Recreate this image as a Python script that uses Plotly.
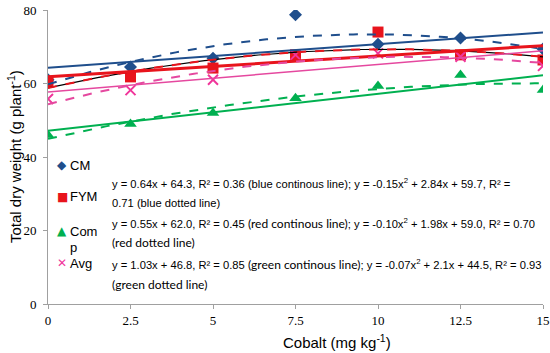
import numpy as np
import plotly.graph_objects as go

# ---- data ----
cobalt = [0, 2.5, 5, 7.5, 10, 12.5, 15]
cm = [61.0, 64.5, 66.9, 78.7, 70.7, 72.4, 69.4]
fym = [60.5, 61.8, 64.2, 67.8, 74.0, 67.8, 66.4]
comp = [46.0, 49.0, 52.0, 56.0, 59.3, 62.3, 58.2]
avg = [55.8, 58.2, 61.0, 67.8, 68.2, 67.3, 64.8]
x_ticks = [0, 2.5, 5, 7.5, 10, 12.5, 15]
x_tick_labels = ["0", "2.5", "5", "7.5", "10", "12.5", "15"]
y_ticks = [0, 20, 40, 60, 80]

BLUE = "#1F4E8C"
RED = "#E8141C"
GREEN = "#00B050"
PINK = "#F0359A"
PINK_LINE = "#E5489F"

W, H = 550, 353
L, R, T, B = 48, 7, 10, 49
PW, PH = W - L - R, H - T - B

def px(x):
    return (x - L) / PW

def py(y):
    return (H - B - y) / PH

fig = go.Figure()

# markers first
fig.add_trace(go.Scatter(x=cobalt, y=cm, mode="markers", name="CM",
                         marker=dict(symbol="diamond", size=10, color=BLUE)))
fig.add_trace(go.Scatter(x=cobalt, y=fym, mode="markers", name="FYM",
                         marker=dict(symbol="square", size=11, color=RED)))
fig.add_trace(go.Scatter(x=cobalt, y=comp, mode="markers", name="Comp",
                         marker=dict(symbol="triangle-up", size=11, color=GREEN)))
fig.add_trace(go.Scatter(x=cobalt, y=avg, mode="markers", name="Avg",
                         marker=dict(symbol="x-thin", size=10, color=PINK,
                                     line=dict(width=2, color=PINK))))

# trendlines fitted from the data
xs = np.linspace(0, 15, 121)
def fit(y, deg):
    c = np.polyfit(cobalt, y, deg)
    return np.polyval(c, xs)

line_specs = [
    (cm, 1, BLUE, 2, "solid"),
    (cm, 2, BLUE, 2, "dash"),
    (fym, 2, "#000000", 1.2, "solid"),
    (fym, 1, RED, 3, "solid"),
    (fym, 2, RED, 2, "dash"),
    (avg, 1, PINK_LINE, 1.5, "solid"),
    (avg, 2, PINK_LINE, 2, "dash"),
    (comp, 1, GREEN, 2, "solid"),
    (comp, 2, GREEN, 2, "dash"),
]
for y, deg, col, w, dash in line_specs:
    fig.add_trace(go.Scatter(x=xs, y=fit(y, deg), mode="lines", showlegend=False,
                             hoverinfo="skip",
                             line=dict(color=col, width=w, dash=dash)))

ann = []
# legend (drawn as text)
leg = [("◆", BLUE, "CM", 165), ("■", RED, "FYM", 197), ("▲", GREEN, "Com", 231), ("✕", PINK, "Avg", 263)]
for g, col, name, yy in leg:
    ann.append(dict(x=px(62), y=py(yy), xref="paper", yref="paper", text=g,
                    showarrow=False, xanchor="center", yanchor="middle",
                    font=dict(family="DejaVu Sans", size=12, color=col)))
    ann.append(dict(x=px(68), y=py(yy), xref="paper", yref="paper", text=name,
                    showarrow=False, xanchor="left", yanchor="middle",
                    font=dict(family="Liberation Sans", size=13, color="#000000")))
ann.append(dict(x=px(68), y=py(247), xref="paper", yref="paper", text="p",
                showarrow=False, xanchor="left", yanchor="middle",
                font=dict(family="Liberation Sans", size=13, color="#000000")))

cal = "<span style='font-family:Lato;font-size:12px'>%s</span>"
eq_lines = [
    ("y = 0.64x + 64.3, R² = 0.36 (blue continous line); y = -0.15x<sup>2</sup> + 2.84x + 59.7, R² =", 183),
    ("0.71 (blue dotted line)", 203),
    ("y = 0.55x + 62.0, R² = 0.45 " + cal % "(red continous line)" + "; y = -0.10x<sup>2</sup> + 1.98x + 59.0, R² = 0.70", 223),
    (cal % "(red dotted line)", 242),
    ("y = 1.03x + 46.8, R² = 0.85 " + cal % "(green continous line)" + "; y = -0.07x<sup>2</sup> + 2.1x + 44.5, R² = 0.93", 264),
    (cal % "(green dotted line)", 284),
]
for txt, yy in eq_lines:
    ann.append(dict(x=px(110), y=py(yy), xref="paper", yref="paper", text=txt,
                    showarrow=False, xanchor="left", yanchor="middle",
                    font=dict(family="Liberation Sans", size=11.2, color="#000000")))

# axis titles
ann.append(dict(x=px(337), y=py(341), xref="paper", yref="paper",
                text="Cobalt (mg kg<sup>-1</sup>)", showarrow=False,
                xanchor="center", yanchor="middle",
                font=dict(family="Liberation Sans", size=15, color="#000000")))
ann.append(dict(x=px(14), y=py(157), xref="paper", yref="paper",
                text="Total dry weight (g plant<sup>-1</sup>)", showarrow=False,
                textangle=-90, xanchor="center", yanchor="middle",
                font=dict(family="Liberation Sans", size=15, color="#000000")))

fig.update_layout(
    width=W, height=H,
    margin=dict(l=L, r=R, t=T, b=B, autoexpand=False),
    paper_bgcolor="white", plot_bgcolor="white",
    showlegend=False,
    annotations=ann,
    xaxis=dict(range=[0, 15], tickvals=x_ticks, ticktext=x_tick_labels,
               automargin=False,
               showgrid=False, zeroline=False, showline=True, linecolor="#A0A0A0",
               linewidth=1, ticks="outside", ticklen=4, tickcolor="#A0A0A0",
               tickfont=dict(family="Liberation Serif", size=13, color="#000000")),
    yaxis=dict(range=[0, 80], tickvals=y_ticks, automargin=False,
               ticklabelstandoff=4,
               showgrid=False, zeroline=False, showline=True, linecolor="#A0A0A0",
               linewidth=1, ticks="outside", ticklen=4, tickcolor="#A0A0A0",
               tickfont=dict(family="Liberation Serif", size=13, color="#000000")),
)

fig.write_html("out.html", config={"displayModeBar": False},
               post_script="document.body.style.margin='0';document.body.style.overflow='hidden';")
